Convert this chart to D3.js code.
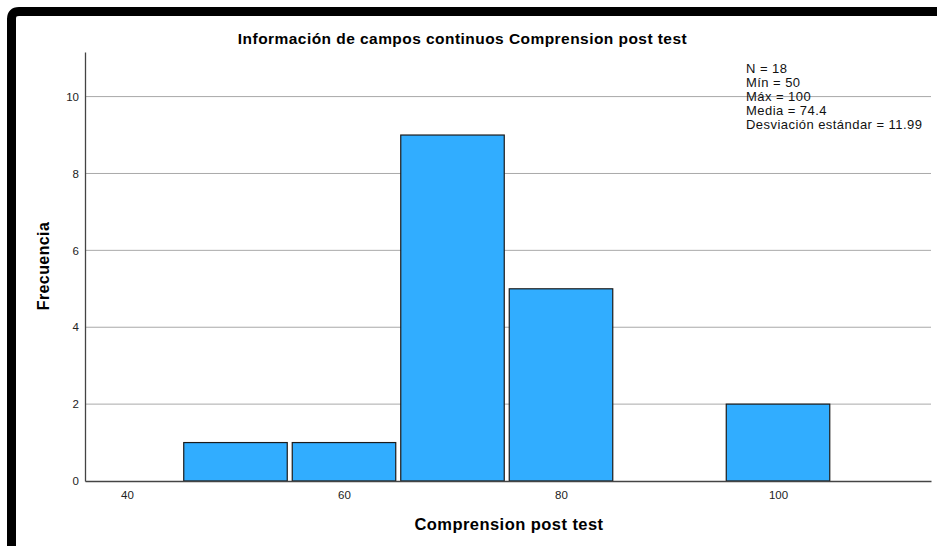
<!DOCTYPE html>
<html>
<head>
<meta charset="utf-8">
<script src="https://cdn.jsdelivr.net/npm/d3@7"></script>
<style>
  body { margin: 0; background: #fff; overflow: hidden; }
  svg { display: block; font-family: "Liberation Sans", Arial, sans-serif; }
</style>
</head>
<body>
<svg id="chart" width="937" height="546"></svg>
<script>
// bins (centres, width 10) and frequencies
var binCenters = [50, 60, 70, 80, 100];
var binWidth = 10;
var frequencies = [1, 1, 9, 5, 2];
var xTicks = [40, 60, 80, 100];
var yTicks = [0, 2, 4, 6, 8, 10];
var statsLines = ["N = 18", "Mín = 50", "Máx = 100", "Media = 74.4", "Desviación estándar = 11.99"];

var svg = d3.select("#chart"),
    width = +svg.attr("width"),
    height = +svg.attr("height");

// thick frame on top / left only
svg.append("path")
    .attr("d", "M" + (width + 10) + ",11.5 H19 Q11.5,11.5 11.5,19 V" + (height + 10))
    .attr("fill", "none")
    .attr("stroke", "#000")
    .attr("stroke-width", 9);

var plotLeft = 85, plotRight = 931, plotTop = 52, plotBottom = 481;

var x = d3.scaleLinear().domain([36.13, 114.1]).range([plotLeft, plotRight]);
var y = d3.scaleLinear().domain([0, 11.16]).range([plotBottom, plotTop]);

// gridlines
svg.append("g")
  .selectAll("line")
  .data(yTicks.filter(function(d) { return d > 0; }))
  .enter().append("line")
    .attr("x1", plotLeft).attr("x2", plotRight)
    .attr("y1", function(d) { return y(d); })
    .attr("y2", function(d) { return y(d); })
    .attr("stroke", "#a9a9a9")
    .attr("stroke-width", 1);

// bars
svg.append("g")
  .selectAll("rect")
  .data(binCenters)
  .enter().append("rect")
    .attr("x", function(d) { return x(d - binWidth / 2) + 2.5; })
    .attr("width", function(d) { return x(d + binWidth / 2) - x(d - binWidth / 2) - 5; })
    .attr("y", function(d, i) { return y(frequencies[i]); })
    .attr("height", function(d, i) { return y(0) - y(frequencies[i]); })
    .attr("fill", "#31adff")
    .attr("stroke", "#1b1b1b")
    .attr("stroke-width", 1.2);

// axes
var yAxis = svg.append("g")
    .attr("transform", "translate(" + plotLeft + ",0)")
    .call(d3.axisLeft(y).tickValues(yTicks).tickSize(0).tickPadding(6));
var xAxis = svg.append("g")
    .attr("transform", "translate(0," + plotBottom + ")")
    .call(d3.axisBottom(x).tickValues(xTicks).tickSize(0).tickPadding(10));

[yAxis, xAxis].forEach(function(a) {
  a.select(".domain").attr("stroke", "#444").attr("stroke-width", 1.3);
  a.selectAll("text").attr("font-family", "Liberation Sans, Arial, sans-serif")
    .attr("font-size", 11.5).attr("fill", "#222");
});

// titles
svg.append("text")
    .attr("x", 462.5).attr("y", 44)
    .attr("text-anchor", "middle")
    .attr("font-weight", "bold").attr("font-size", 15.5)
    .attr("letter-spacing", 0.45)
    .text("Información de campos continuos Comprension post test");

svg.append("text")
    .attr("x", 509).attr("y", 530)
    .attr("text-anchor", "middle")
    .attr("font-weight", "bold").attr("font-size", 16.5)
    .attr("letter-spacing", 0.45)
    .text("Comprension post test");

svg.append("text")
    .attr("transform", "translate(49,266) rotate(-90)")
    .attr("text-anchor", "middle")
    .attr("font-weight", "bold").attr("font-size", 16)
    .attr("letter-spacing", 0.4)
    .text("Frecuencia");

// stats box
svg.append("g")
  .selectAll("text")
  .data(statsLines)
  .enter().append("text")
    .attr("x", 746)
    .attr("y", function(d, i) { return 73 + i * 13.9; })
    .attr("font-size", 13)
    .attr("letter-spacing", 0.45)
    .attr("fill", "#111")
    .text(function(d) { return d; });
</script>
</body>
</html>
